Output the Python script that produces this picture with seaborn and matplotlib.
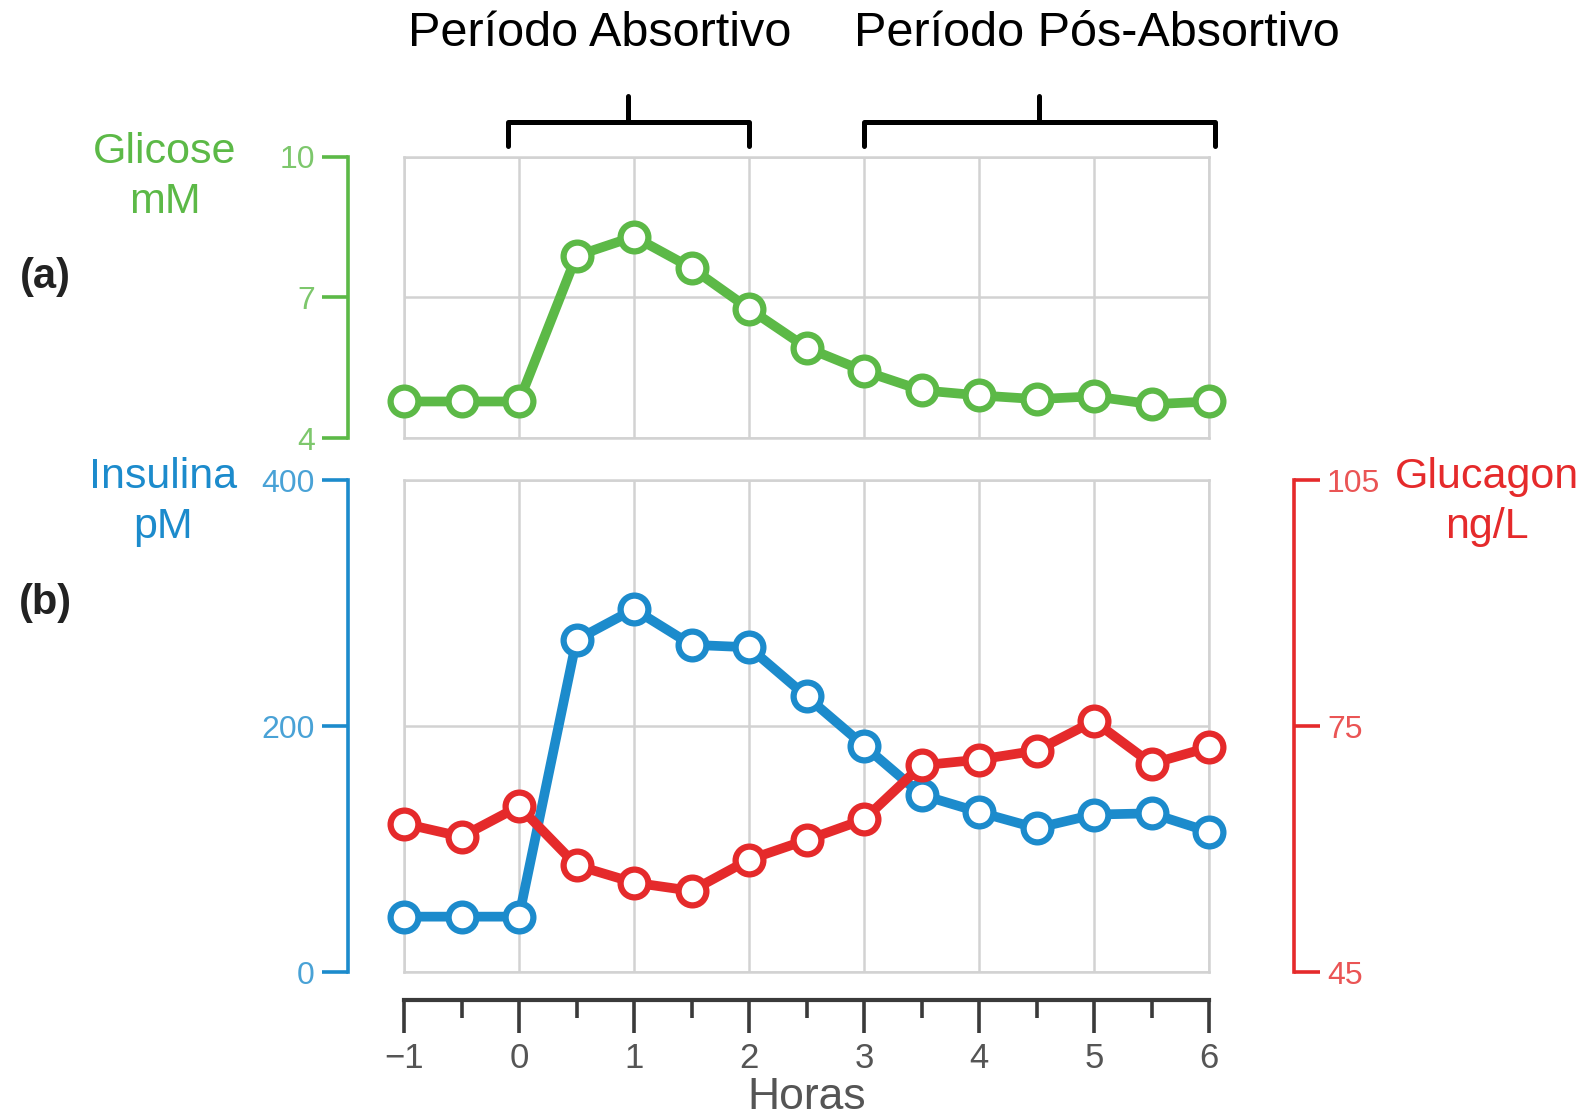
import matplotlib
matplotlib.use('Agg')
import matplotlib.pyplot as plt
import matplotlib.transforms as mtransforms
import seaborn as sns

# values
hours = [-1, -0.5, 0, 0.5, 1, 1.5, 2, 2.5, 3, 3.5, 4, 4.5, 5, 5.5, 6]
glucose = [4.78, 4.78, 4.78, 7.89, 8.30, 7.63, 6.76, 5.93, 5.43, 5.02, 4.91, 4.83, 4.89, 4.72, 4.78]
insulin = [45, 45, 45, 270, 295, 266, 264, 224, 184, 144, 130, 117, 128, 129, 114]
glucagon = [63.1, 61.5, 65.2, 58.0, 55.9, 54.9, 58.7, 61.1, 63.6, 70.2, 70.9, 72.0, 75.6, 70.4, 72.4]

x_ticks = [-1, 0, 1, 2, 3, 4, 5, 6]
x_minor = [-0.5, 0.5, 1.5, 2.5, 3.5, 4.5, 5.5]
glucose_ticks = [4, 7, 10]
insulin_ticks = [0, 200, 400]
glucagon_ticks = [45, 75, 105]
periods = ['Período Absortivo', 'Período Pós-Absortivo']
period_spans = [(-0.1, 2.0), (3.0, 6.05)]

GREEN = '#5cb947'
BLUE = '#1c8bcc'
RED = '#e52a2b'
GRID = '#d2d2d2'

sns.set_style('white')
plt.rcParams['font.family'] = ['Liberation Sans', 'DejaVu Sans']

W, H = 1591, 1117
fig = plt.figure(figsize=(W / 100, H / 100), dpi=100)
ax_a = fig.add_axes([404 / W, 1 - 438 / H, 805 / W, 281 / H])
ax_b = fig.add_axes([404 / W, 1 - 972 / H, 805 / W, 492 / H])
ax_g = ax_b.twinx()


def draw(ax, y, color):
    sns.lineplot(x=hours, y=y, ax=ax, color=color, linewidth=7, marker='o',
                 markersize=20, markerfacecolor='white', markeredgecolor=color,
                 markeredgewidth=4.5, clip_on=False, zorder=5)


draw(ax_a, glucose, GREEN)
draw(ax_b, insulin, BLUE)
draw(ax_g, glucagon, RED)

for ax in (ax_a, ax_b):
    ax.set_xlim(-1, 6)
    ax.set_xticks(x_ticks)
    ax.grid(True, color=GRID, linewidth=1.8)
    ax.tick_params(left=False, labelleft=False, bottom=False, labelbottom=False)
    for s in ax.spines.values():
        s.set_color(GRID)
        s.set_linewidth(1.8)
    ax.set_xlabel('')
    ax.set_ylabel('')

ax_a.set_ylim(4, 10)
ax_a.set_yticks(glucose_ticks)
ax_b.set_ylim(0, 400)
ax_b.set_yticks(insulin_ticks)

# offset coloured value axes
sec_a = ax_a.secondary_yaxis(-56 / 805)
sec_a.set_yticks(glucose_ticks)
sec_b = ax_b.secondary_yaxis(-56 / 805)
sec_b.set_yticks(insulin_ticks)
for sec, c in ((sec_a, GREEN), (sec_b, BLUE)):
    sec.spines['left'].set_color(c)
    sec.spines['left'].set_linewidth(2.6)
    sec.tick_params(axis='y', colors=c, length=19, width=2.6, pad=5, labelsize=23)
    for lab in sec.get_yticklabels():
        lab.set_alpha(0.8)

ax_g.set_ylim(45, 105)
ax_g.set_yticks(glucagon_ticks)
ax_g.grid(False)
for k in ('left', 'top', 'bottom'):
    ax_g.spines[k].set_visible(False)
ax_g.spines['right'].set_position(('outward', 61))
ax_g.spines['right'].set_color(RED)
ax_g.spines['right'].set_linewidth(2.6)
ax_g.tick_params(axis='y', colors=RED, length=19, width=2.6, pad=5, labelsize=23)
for lab in ax_g.get_yticklabels():
    lab.set_alpha(0.8)
ax_g.set_ylabel('')

# time axis below the lower panel
sec_x = ax_b.secondary_xaxis(-28 / 492)
sec_x.set_xticks(x_ticks)
sec_x.set_xticks(x_minor, minor=True)
sec_x.spines['bottom'].set_color('#3a3a3a')
sec_x.spines['bottom'].set_linewidth(3)
sec_x.tick_params(axis='x', which='major', colors='#3a3a3a', length=24, width=2.6,
                  pad=6, labelsize=25, labelcolor='#555555')
sec_x.tick_params(axis='x', which='minor', colors='#3a3a3a', length=13, width=2.6)
sec_x.set_xlabel('Horas', fontsize=32, color='#555555', labelpad=2)

# axis titles
fig.text(165 / W, 1 - 177 / H, 'Glicose\nmM', color=GREEN, fontsize=31,
         ha='center', va='center', linespacing=1.3)
fig.text(163 / W, 1 - 502 / H, 'Insulina\npM', color=BLUE, fontsize=31,
         ha='center', va='center', linespacing=1.3)
fig.text(1487 / W, 1 - 502 / H, 'Glucagon\nng/L', color=RED, fontsize=31,
         ha='center', va='center', linespacing=1.3)
fig.text(45 / W, 1 - 277 / H, '(a)', color='#222222', fontsize=30,
         fontweight='semibold', ha='center', va='center')
fig.text(45 / W, 1 - 603 / H, '(b)', color='#222222', fontsize=30,
         fontweight='semibold', ha='center', va='center')

# period brackets and titles
trans = mtransforms.blended_transform_factory(ax_a.transData, fig.transFigure)
y_bar, y_end, y_peak = 1 - 122 / H, 1 - 146 / H, 1 - 96 / H
for (x0, x1), name, tx in zip(period_spans, periods, [600, 1097]):
    xm = (x0 + x1) / 2
    ax_a.plot([x0, x0, x1, x1], [y_end, y_bar, y_bar, y_end], transform=trans,
              color='black', linewidth=3.6, clip_on=False, solid_joinstyle='round')
    ax_a.plot([xm, xm], [y_bar, y_peak], transform=trans, color='black',
              linewidth=3.6, clip_on=False)
    fig.text(tx / W, 1 - 33 / H, name, ha='center', va='center',
             fontsize=35, color='black')

fig.savefig('out.png', dpi=100)
